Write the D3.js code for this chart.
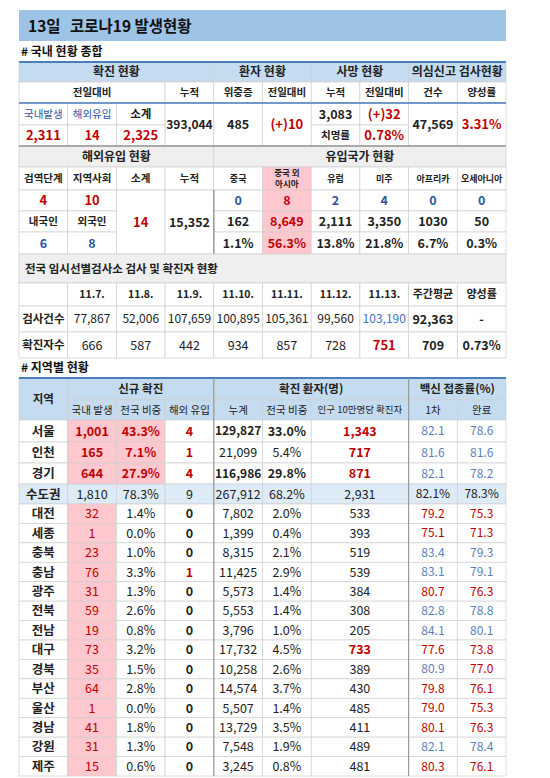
<!DOCTYPE html><html><head><meta charset="utf-8"><script src="https://cdn.jsdelivr.net/npm/d3@7"></script>
<style>body{margin:0;background:#fff}</style></head><body><svg id="c" width="550" height="778"></svg>
<script>
const regions=["서울","인천","경기","수도권","대전","세종","충북","충남","광주","전북","전남","대구","경북","부산","울산","경남","강원","제주"];
const newDomestic=[1001,165,644,1810,32,1,23,76,31,59,19,73,35,64,1,41,31,15];
const newShare=["43.3%","7.1%","27.9%","78.3%","1.4%","0.0%","1.0%","3.3%","1.3%","2.6%","0.8%","3.2%","1.5%","2.8%","0.0%","1.8%","1.3%","0.6%"];
const newImported=[4,1,4,9,0,0,0,1,0,0,0,0,0,0,0,0,0,0];
const cumulative=[129827,21099,116986,267912,7802,1399,8315,11425,5573,5553,3796,17732,10258,14574,5507,13729,7548,3245];
const cumShare=["33.0%","5.4%","29.8%","68.2%","2.0%","0.4%","2.1%","2.9%","1.4%","1.4%","1.0%","4.5%","2.6%","3.7%","1.4%","3.5%","1.9%","0.8%"];
const per100k=[1343,717,871,2931,533,393,519,539,384,308,205,733,389,430,485,411,489,481];
const vax1=["82.1","81.6","82.1","82.1%","79.2","75.1","83.4","83.1","80.7","82.8","84.1","77.6","80.9","79.8","79.0","80.1","82.1","80.3"];
const vax2=["78.6","81.6","78.2","78.3%","75.3","71.3","79.3","79.1","76.3","78.8","80.1","73.8","77.0","76.1","75.3","76.3","78.4","76.1"];
const vax1Blue=[1,1,1,0,0,0,1,1,0,1,1,0,1,0,0,0,1,0];
const vax2Blue=[1,1,1,0,0,0,1,1,0,1,1,0,0,0,0,0,1,0];
const dates=["11.7.","11.8.","11.9.","11.10.","11.11.","11.12.","11.13."];
const tests=[77867,52006,107659,100895,105361,99560,103190];
const cases=[666,587,442,934,857,728,751];

const svg=d3.select("#c");
const F="'Noto Sans CJK KR','Noto Sans',sans-serif";
const x=d3.scaleLinear().domain([0,10]).range([19,506]);
const fmt=d3.format(",");
const RED="#c00000",BLUE="#2e54a0",LB="#c5dcf0",GR="#efefef",PINK="#ffc7ce",DARK="#222";
function cell(c0,c1,y0,y1,t,o={}){
  const X0=x(c0),X1=x(c1);
  svg.append("rect").attr("x",X0).attr("y",y0).attr("width",X1-X0).attr("height",y1-y0)
    .attr("fill",o.fill||"#fff").attr("stroke",o.stroke||"#cfcfcf").attr("stroke-width",0.7);
  if(t!==undefined&&t!==null){
    const lines=String(t).split("\n"),lh=o.lh||12;
    lines.forEach((l,i)=>svg.append("text").attr("x",o.left?X0+6:(X0+X1)/2)
      .attr("y",(y0+y1)/2+(i-(lines.length-1)/2)*lh).attr("dy","0.36em")
      .attr("text-anchor",o.left?"start":"middle").attr("font-family",F)
      .attr("font-size",o.size||12.5).attr("font-weight",o.w||"normal")
      .attr("fill",o.color||DARK).text(l));
  }
}
// title
svg.append("rect").attr("x",19).attr("y",10).attr("width",487).attr("height",31).attr("fill","#9dc3e6");
svg.append("text").attr("x",28).attr("y",26).attr("dy","0.36em").attr("font-family",F).attr("font-size",15.5).attr("font-weight","bold").attr("fill","#111").text("13일");
svg.append("text").attr("x",70).attr("y",26).attr("dy","0.36em").attr("font-family",F).attr("font-size",15.5).attr("font-weight","bold").attr("fill","#111").text("코로나19 발생현황");
function sect(y,t){svg.append("text").attr("x",21).attr("y",y).attr("dy","0.36em").attr("font-family",F).attr("font-size",12).attr("font-weight","bold").attr("fill","#111").text(t);}
sect(52,"# 국내 현황 종합");
// section 1
const hs={fill:LB,w:"bold",size:12};
cell(0,4,62,82,"확진 현황",hs);cell(4,6,62,82,"환자 현황",hs);cell(6,8,62,82,"사망 현황",hs);cell(8,10,62,82,"의심신고 검사현황",hs);
const sm={size:10.5,w:"bold"};
cell(0,3,82,103,"전일대비",sm);[["누적",3],["위중증",4],["전일대비",5],["누적",6],["전일대비",7],["건수",8],["양성률",9]].forEach(([t,i])=>cell(i,i+1,82,103,t,sm));
cell(0,1,103,125,"국내발생",{size:10.5,color:BLUE});cell(1,2,103,125,"해외유입",{size:10.5,color:BLUE});cell(2,3,103,125,"소계",{size:11.5,color:DARK,w:"bold"});
const rb={color:RED,w:"bold",size:13};
cell(0,1,125,146,fmt(2311),rb);cell(1,2,125,146,"14",rb);cell(2,3,125,146,fmt(2325),rb);
const bb={w:"bold",size:12.5};
cell(3,4,103,146,fmt(393044),{w:"bold",size:12});cell(4,5,103,146,"485",bb);cell(5,6,103,146,"(+)10",rb);
cell(6,7,103,125,fmt(3083),bb);cell(7,8,103,125,"(+)32",rb);cell(6,7,125,146,"치명률",{size:10.5,w:"bold"});cell(7,8,125,146,"0.78%",rb);
cell(8,9,103,146,fmt(47569),bb);cell(9,10,103,146,"3.31%",rb);
svg.append("line").attr("x1",19).attr("x2",506).attr("y1",62).attr("y2",62).attr("stroke","#4a7ebb").attr("stroke-width",2);
svg.append("line").attr("x1",19).attr("x2",506).attr("y1",103).attr("y2",103).attr("stroke","#4a7ebb").attr("stroke-width",1.5);
// section 2
const gh={fill:GR,w:"bold",size:12};
cell(0,4,146,167,"해외유입 현황",gh);cell(4,10,146,167,"유입국가 현황",gh);
["검역단계","지역사회","소계","누적","중국","중국 외\n아시아","유럽","미주","아프리카","오세아니아"].forEach((t,i)=>cell(i,i+1,167,190,t,{size:i>=4?(i==5?8.5:9):10.5,lh:11,w:"bold",fill:i==5?PINK:"#fff"}));
cell(0,1,190,211,"4",rb);cell(1,2,190,211,"10",rb);
cell(0,1,211,232,"내국인",{size:10.5,w:"bold"});cell(1,2,211,232,"외국인",{size:10.5,w:"bold"});
cell(0,1,232,254,"6",{color:BLUE,w:"bold"});cell(1,2,232,254,"8",{color:BLUE,w:"bold"});
cell(2,3,190,254,"14",rb);cell(3,4,190,254,fmt(15352),bb);
const byN=[0,8,2,4,0,0],byC=[162,8649,2111,3350,1030,50],byP=["1.1%","56.3%","13.8%","21.8%","6.7%","0.3%"];
byN.forEach((v,i)=>{const pk=i==1;cell(4+i,5+i,190,211,v,{w:"bold",color:pk?RED:BLUE,fill:pk?PINK:"#fff"});
 cell(4+i,5+i,211,232,i==4?String(byC[i]):fmt(byC[i]),{w:"bold",color:pk?RED:DARK,fill:pk?PINK:"#fff"});
 cell(4+i,5+i,232,254,byP[i],{w:"bold",color:pk?RED:DARK,fill:pk?PINK:"#fff"});});
svg.append("line").attr("x1",19).attr("x2",506).attr("y1",146).attr("y2",146).attr("stroke","#aaa").attr("stroke-width",2);
svg.append("line").attr("x1",x(4)).attr("x2",x(4)).attr("y1",190).attr("y2",254).attr("stroke","#999").attr("stroke-width",1.5);
// section 3
cell(0,10,254,283,"전국 임시선별검사소 검사 및 확진자 현황",{fill:GR,w:"bold",size:11.5,left:true});
cell(0,1,283,306,"");dates.forEach((d,i)=>cell(i+1,i+2,283,306,d,{w:"bold",size:10.5}));
cell(8,9,283,306,"주간평균",{w:"bold",size:11});cell(9,10,283,306,"양성률",{w:"bold",size:11});
cell(0,1,306,332,"검사건수",{w:"bold",size:11.5});tests.forEach((v,i)=>cell(i+1,i+2,306,332,fmt(v),{size:12,color:i==6?"#4472c4":DARK}));
cell(8,9,306,332,fmt(Math.round(d3.mean(tests))),bb);cell(9,10,306,332,"-",bb);
cell(0,1,332,358,"확진자수",{w:"bold",size:11.5});cases.forEach((v,i)=>cell(i+1,i+2,332,358,v,i==6?rb:{size:12.5}));
cell(8,9,332,358,Math.round(d3.mean(cases)),bb);cell(9,10,332,358,"0.73%",bb);
sect(368,"# 지역별 현황");
// region table
const hh={fill:LB,w:"bold",size:11.5};
cell(0,1,378,420,"지역",hh);cell(1,4,378,400,"신규 확진",hh);cell(4,8,378,400,"확진 환자(명)",hh);cell(8,10,378,400,"백신 접종률(%)",hh);
const sh={fill:LB,size:10.5};
[["국내 발생",1,2],["전국 비중",2,3],["해외 유입",3,4],["누계",4,5],["전국 비중",5,6],["인구 10만명당 확진자",6,8],["1차",8,9],["완료",9,10]].forEach(([t,a,b])=>cell(a,b,400,420,t,{...sh,size:a==6?9.5:10.5}));
svg.append("line").attr("x1",19).attr("x2",506).attr("y1",378).attr("y2",378).attr("stroke","#4a7ebb").attr("stroke-width",2);
const ys=[420,442,463,484,504];for(let i=5;i<=regions.length;i++)ys.push(504+(i-4)*(776-504)/14);
regions.forEach((r,i)=>{
  const y0=ys[i],y1=ys[i+1],top=i<3,cap=i==3,bg=cap?"#ddebf7":"#fff";
  cell(0,1,y0,y1,r,{fill:bg,w:"bold",size:12.5});
  cell(1,2,y0,y1,fmt(newDomestic[i]),{fill:cap?bg:PINK,color:cap?DARK:RED,w:top?"bold":"normal",size:12.5});
  cell(2,3,y0,y1,newShare[i],{fill:top?PINK:bg,color:top?RED:DARK,w:top?"bold":"normal",size:12.5});
  cell(3,4,y0,y1,newImported[i],{fill:bg,color:cap?DARK:(newImported[i]?RED:DARK),w:cap?"normal":"bold",size:12.5});
  cell(4,5,y0,y1,fmt(cumulative[i]),{fill:bg,w:(i==0||i==2)?"bold":"normal",size:(i==0||i==2)?12:12.5});
  cell(5,6,y0,y1,cumShare[i],{fill:bg,w:(i==0||i==2)?"bold":"normal",size:12.5});
  const hot=top||i==11;
  cell(6,8,y0,y1,fmt(per100k[i]),{fill:bg,color:hot?RED:DARK,w:hot?"bold":"normal",size:12.5});
  cell(8,9,y0,y1,vax1[i],{fill:bg,color:cap?DARK:(vax1Blue[i]?"#5b7fb8":RED),size:12});
  cell(9,10,y0,y1,vax2[i],{fill:bg,color:cap?DARK:(vax2Blue[i]?"#5b7fb8":RED),size:12});
});
svg.append("line").attr("x1",x(4)).attr("x2",x(4)).attr("y1",378).attr("y2",776).attr("stroke","#999").attr("stroke-width",1.2);
svg.append("line").attr("x1",x(8)).attr("x2",x(8)).attr("y1",378).attr("y2",776).attr("stroke","#999").attr("stroke-width",1.2);
</script></body></html>
